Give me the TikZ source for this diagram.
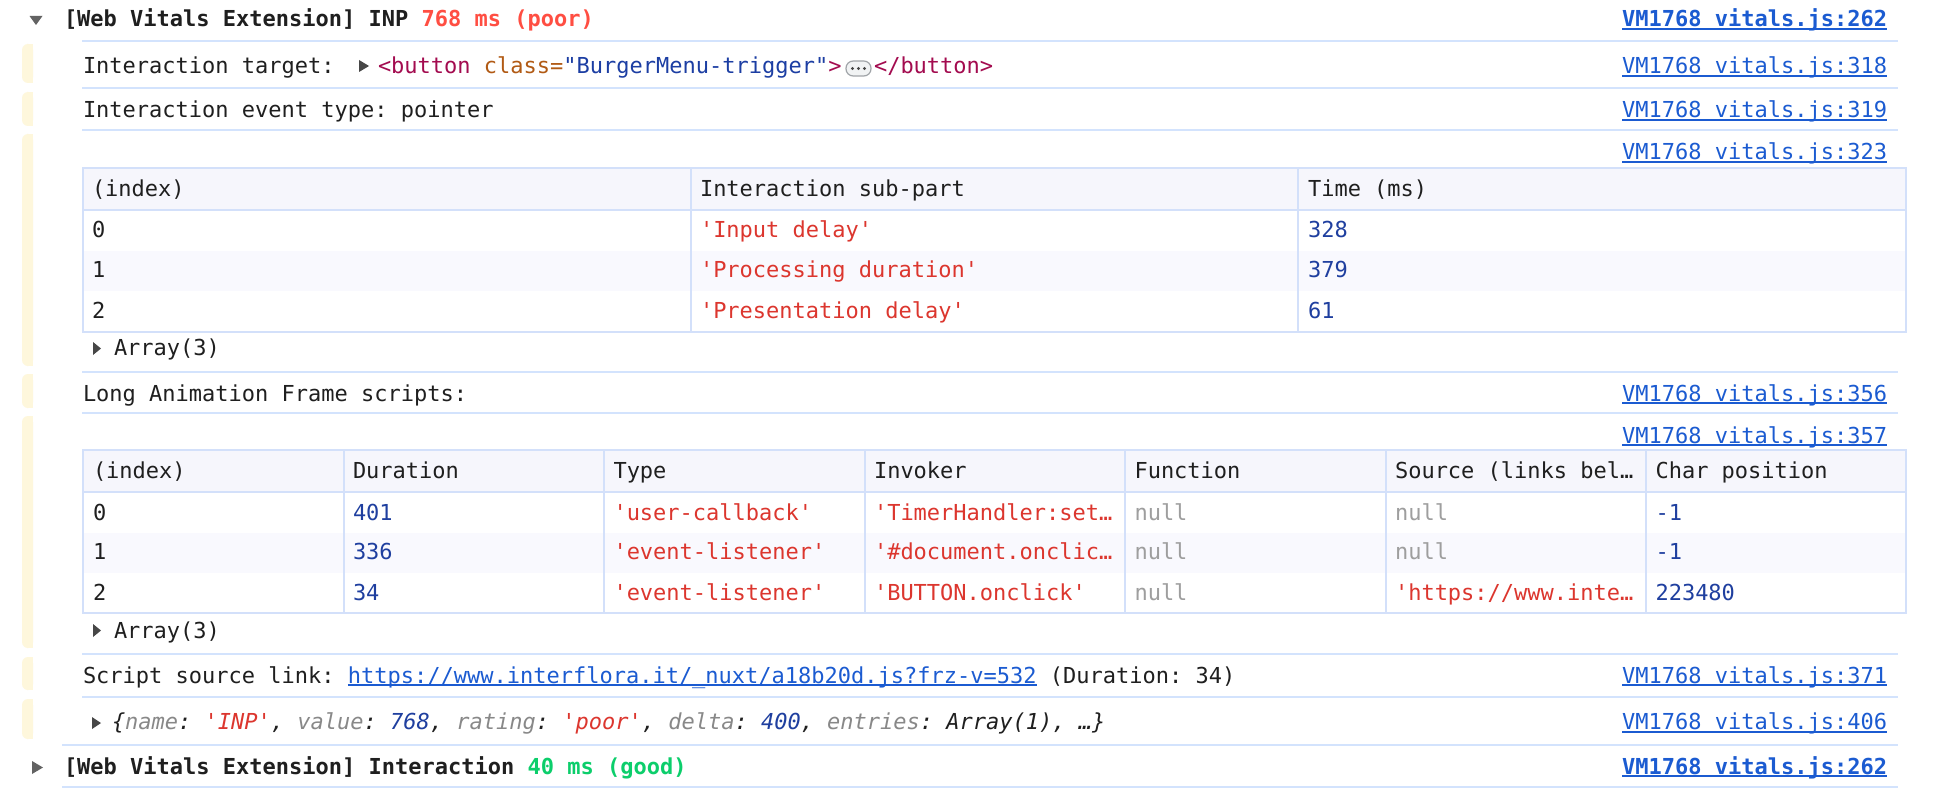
\documentclass[tikz,border=0pt]{standalone}
\usepackage{fontspec}
\setmonofont{DejaVu Sans Mono}
\definecolor{sepc}{HTML}{D3E3FD}
\definecolor{tblc}{HTML}{D3E0FA}
\definecolor{headbg}{HTML}{F6F6FC}
\definecolor{stripebg}{HTML}{F9F9FE}
\definecolor{ybar}{HTML}{FEF7DC}
\definecolor{txtc}{HTML}{1F1F1F}
\definecolor{strc}{HTML}{DC362E}
\definecolor{numc}{HTML}{1F3F9F}
\definecolor{nullc}{HTML}{9E9E9E}
\definecolor{keyc}{HTML}{888888}
\definecolor{linkc}{HTML}{1B5BD1}
\definecolor{poorc}{HTML}{FF4E42}
\definecolor{goodc}{HTML}{0CCE6B}
\definecolor{tagc}{HTML}{A30B4F}
\definecolor{attrc}{HTML}{B15A14}
\definecolor{valc}{HTML}{1C3EA3}
\definecolor{tric}{HTML}{474747}
\definecolor{pillc}{HTML}{A0A4A8}
\definecolor{pillbg}{HTML}{F1F3F4}
\newcommand\lnk[1]{{\color{linkc}\setbox0\hbox{#1}\rlap{\rule[-1.6pt]{\wd0}{0.9pt}}\box0}}
\newcommand\sv[1]{{\color{strc}#1}}
\newcommand\nv[1]{{\color{numc}#1}}
\newcommand\kv[1]{{\color{keyc}#1}}
\newcommand\nullv{{\color{nullc}null}}
\begin{document}
\frenchspacing
\begin{tikzpicture}[x=0.5pt,y=-0.5pt,
  every node/.style={inner sep=0pt,outer sep=0pt,font=\ttfamily\fontsize{11}{13}\selectfont,text=txtc},
  txt/.style={anchor=base west},
  src/.style={anchor=base east},
  srcb/.style={anchor=base east,font=\ttfamily\bfseries\fontsize{11}{13}\selectfont},
  hdr/.style={anchor=base west,font=\ttfamily\bfseries\fontsize{11}{13}\selectfont},
  sepline/.style={draw=sepc,line width=1pt},
  tbl/.style={draw=tblc,line width=1pt},
  tri/.style={fill=tric},
  htri/.style={fill=tric!85},
  yfill/.style={fill=ybar}]
\useasboundingbox (0,0) rectangle (1948,792);
\fill[white] (0,0) rectangle (1948,792);

% yellow group bars
\foreach \a/\b in {44/83,92/126,134/366,374/408,416/648,657/690,699/739}{
  \fill[yfill,rounded corners=3pt] (22,\a) rectangle (33,\b);
  \fill[yfill] (28,\a) rectangle (33,\b);
}

% separators
\foreach \yy in {41,88,130,372,413,654,697}{
  \draw[sepline] (82,\yy) -- (1898,\yy);
}
\draw[sepline] (62,745) -- (1898,745);
\draw[sepline] (62,787) -- (1898,787);

% header 1
\fill[htri] (29.5,16) -- (42.5,16) -- (36,25) -- cycle;
\node[hdr] (h1) at (64,27) {[Web Vitals Extension] INP {\color{poorc}768 ms (poor)}};
\node[srcb] (l262a) at (1887,27) {\lnk{VM1768 vitals.js:262}};

% interaction target
\node[txt] (tgt) at (83,74) {Interaction target:};
\fill[tri] (359,60) -- (369,66) -- (359,72) -- cycle;
\node[txt] (btn) at (378,74) {{\color{tagc}<button} {\color{attrc}class=}{\color{valc}"BurgerMenu-trigger"}{\color{tagc}>}};
\draw[draw=pillc,fill=pillbg,line width=0.6pt,rounded corners=3.6pt] (846,61) rectangle (871,76);
\foreach \dx in {852.5,858.5,864.5}{\fill[tric] (\dx,68.5) circle (1.6);}
\node[txt] (btnc) at (874,74) {\color{tagc}</button>};
\node[src] (l318) at (1887,74) {\lnk{VM1768 vitals.js:318}};

% event type
\node[txt] (evt) at (83,118) {Interaction event type: pointer};
\node[src] (l319) at (1887,118) {\lnk{VM1768 vitals.js:319}};

% table 1
\node[src] (l323) at (1887,160) {\lnk{VM1768 vitals.js:323}};
\fill[headbg] (83,168) rectangle (1906,210);
\fill[stripebg] (83,251) rectangle (1906,291);
\draw[tbl] (83,168) rectangle (1906,332);
\draw[tbl] (83,210) -- (1906,210);
\draw[tbl] (690.7,168) -- (690.7,332);
\draw[tbl] (1298.3,168) -- (1298.3,332);
\node[txt] (ta00) at (92,196) {(index)};
\node[txt] (ta01) at (700,196) {Interaction sub-part};
\node[txt] (ta02) at (1308,196) {Time (ms)};
\node[txt] (ta10) at (92,237) {0};
\node[txt] (ta11) at (700,237) {\sv{'Input delay'}};
\node[txt] (ta12) at (1308,237) {\nv{328}};
\node[txt] (ta20) at (92,277.5) {1};
\node[txt] (ta21) at (700,277.5) {\sv{'Processing duration'}};
\node[txt] (ta22) at (1308,277.5) {\nv{379}};
\node[txt] (ta30) at (92,318) {2};
\node[txt] (ta31) at (700,318) {\sv{'Presentation delay'}};
\node[txt] (ta32) at (1308,318) {\nv{61}};
\fill[tri] (93,342) -- (101,348.5) -- (93,355) -- cycle;
\node[txt] (arr1) at (114,355) {Array(3)};

% LoAF
\node[txt] (loaf) at (83,401) {Long Animation Frame scripts:};
\node[src] (l356) at (1887,401) {\lnk{VM1768 vitals.js:356}};

% table 2
\node[src] (l357) at (1887,443) {\lnk{VM1768 vitals.js:357}};
\fill[headbg] (83,450) rectangle (1906,492);
\fill[stripebg] (83,533) rectangle (1906,573);
\draw[tbl] (83,450) rectangle (1906,613);
\draw[tbl] (83,492) -- (1906,492);
\foreach \xx in {343.5,604,864.5,1125,1385.5,1646}{\draw[tbl] (\xx,450) -- (\xx,613);}
\node[txt] (tb00) at (93,478.5) {(index)};
\node[txt] (tb01) at (353,478.5) {Duration};
\node[txt] (tb02) at (613.5,478.5) {Type};
\node[txt] (tb03) at (874,478.5) {Invoker};
\node[txt] (tb04) at (1134.5,478.5) {Function};
\node[txt] (tb05) at (1395,478.5) {Source (links bel…};
\node[txt] (tb06) at (1655.5,478.5) {Char position};
\node[txt] (tb10) at (93,520) {0};
\node[txt] (tb11) at (353,520) {\nv{401}};
\node[txt] (tb12) at (613.5,520) {\sv{'user-callback'}};
\node[txt] (tb13) at (874,520) {\sv{'TimerHandler:set…}};
\node[txt] (tb14) at (1134.5,520) {\nullv};
\node[txt] (tb15) at (1395,520) {\nullv};
\node[txt] (tb16) at (1655.5,520) {\nv{-1}};
\node[txt] (tb20) at (93,559.5) {1};
\node[txt] (tb21) at (353,559.5) {\nv{336}};
\node[txt] (tb22) at (613.5,559.5) {\sv{'event-listener'}};
\node[txt] (tb23) at (874,559.5) {\sv{'\#document.onclic…}};
\node[txt] (tb24) at (1134.5,559.5) {\nullv};
\node[txt] (tb25) at (1395,559.5) {\nullv};
\node[txt] (tb26) at (1655.5,559.5) {\nv{-1}};
\node[txt] (tb30) at (93,600) {2};
\node[txt] (tb31) at (353,600) {\nv{34}};
\node[txt] (tb32) at (613.5,600) {\sv{'event-listener'}};
\node[txt] (tb33) at (874,600) {\sv{'BUTTON.onclick'}};
\node[txt] (tb34) at (1134.5,600) {\nullv};
\node[txt] (tb35) at (1395,600) {\sv{'https://www.inte…}};
\node[txt] (tb36) at (1655.5,600) {\nv{223480}};
\fill[tri] (93,624) -- (101,630.5) -- (93,637) -- cycle;
\node[txt] (arr2) at (114,638) {Array(3)};

% script source
\node[txt] (ssl) at (83,683) {Script source link: \lnk{https://www.interflora.it/\_nuxt/a18b20d.js?frz-v=532} (Duration: 34)};
\node[src] (l371) at (1887,683) {\lnk{VM1768 vitals.js:371}};

% object preview
\fill[tri] (92,717) -- (101,723) -- (92,729) -- cycle;
\node[txt,font=\ttfamily\itshape\fontsize{11}{13}\selectfont] (obj) at (112,729.5) {\{\kv{name}: \sv{'INP'}, \kv{value}: \nv{768}, \kv{rating}: \sv{'poor'}, \kv{delta}: \nv{400}, \kv{entries}: Array(1), …\}};
\node[src] (l406) at (1887,729.5) {\lnk{VM1768 vitals.js:406}};

% header 2
\fill[htri] (32,761) -- (43,767.5) -- (32,774) -- cycle;
\node[hdr] (h2) at (64,774) {[Web Vitals Extension] Interaction {\color{goodc}40 ms (good)}};
\node[srcb] (l262b) at (1887,774) {\lnk{VM1768 vitals.js:262}};
\end{tikzpicture}
\end{document}
